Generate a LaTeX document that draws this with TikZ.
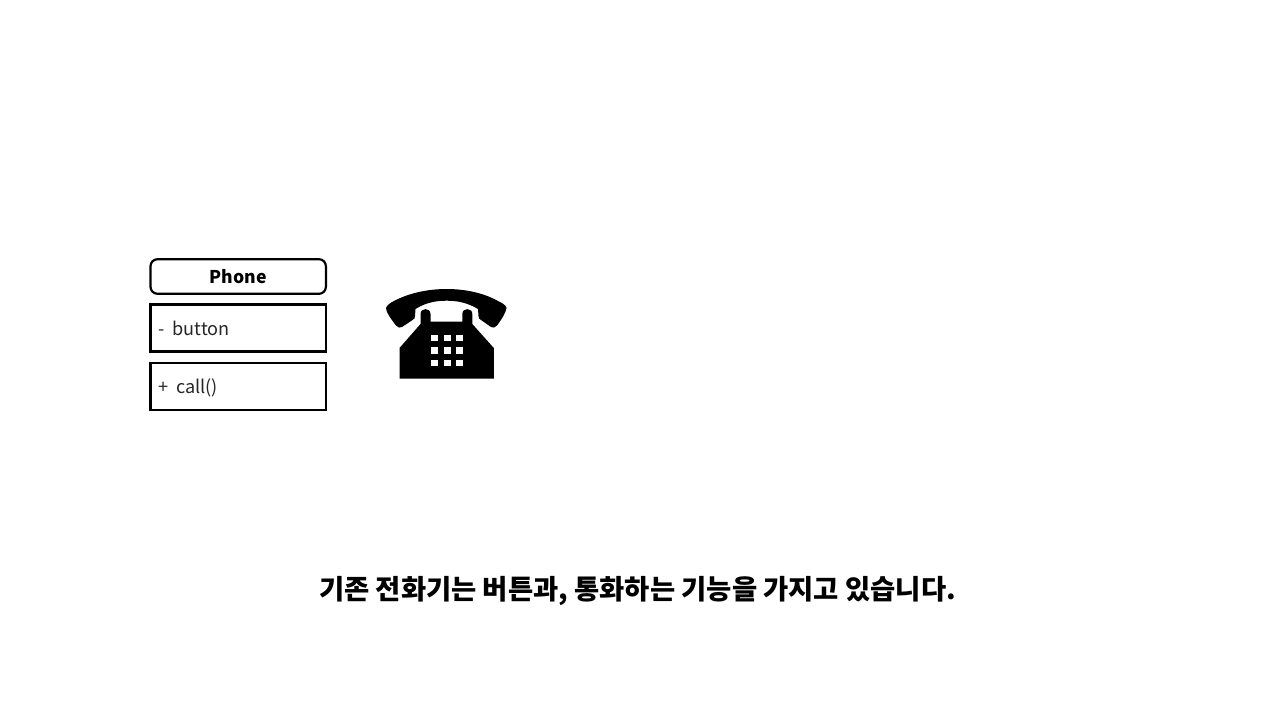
\documentclass[tikz,border=0pt]{standalone}
\usepackage{fontspec}
\setmainfont{Noto Sans CJK KR}
\tikzset{
  x=1pt,y=-1pt,
  umlbox/.style={draw=black,line width=2.2pt,outer sep=0pt,fill=white,minimum width=175.4pt,minimum height=47pt,inner sep=0pt,text width=159pt,align=left,anchor=north west,font=\fontsize{18.1}{22}\selectfont,text=black!85},
  titlebox/.style={umlbox,rounded corners=7pt,minimum height=34.6pt,align=center,text=black,font=\fontsize{17.6}{22}\selectfont\bfseries},
  caption/.style={font=\fontsize{27.4}{32}\selectfont\bfseries,text=black,inner sep=0pt},
  keypad/.style={fill=white,draw=none}
}
\begin{document}
\begin{tikzpicture}
\useasboundingbox (0,0) rectangle (1280,720);
\node[titlebox] (title) at (150.5,259.2) {Phone};
\node[umlbox] (attr) at (150.5,304.5) {\raisebox{-2.5pt}[14pt][4pt]{-\hspace{0.42em}button}};
\node[umlbox] (oper) at (150.5,362.6) {\raisebox{-2.5pt}[14pt][4pt]{+\hspace{0.42em}call()}};
% telephone
\fill[black] (386,308) .. controls (387,305) and (390,303) .. (394,301)
  .. controls (409,293) and (428,289) .. (446.7,289)
  .. controls (465,289) and (484,293) .. (498,301)
  .. controls (502,303) and (506,305) .. (506.5,308)
  .. controls (506,312) and (502,319) .. (497,325.5)
  .. controls (495,328) and (493,328) .. (491,327)
  -- (481,320) .. controls (479,319) and (478.5,318) .. (478.5,316)
  -- (478,309) .. controls (468,303) and (458,300.7) .. (446.7,300.7)
  .. controls (435,300.7) and (425,303) .. (415.5,309)
  -- (415,316) .. controls (415,318) and (414.5,319) .. (412.5,320)
  -- (402,327) .. controls (400,328) and (398,328) .. (396,325.5)
  .. controls (391,319) and (386,312) .. (386,308) -- cycle;
\fill[black] (399.5,378.5) -- (399.5,348) -- (420.5,324) -- (420.5,314)
  .. controls (420.5,307.5) and (430.5,307.5) .. (430.5,314)
  -- (430.5,321.7) -- (462.3,321.7) -- (462.3,314)
  .. controls (462.3,307.5) and (472.3,307.5) .. (472.3,314)
  -- (472.3,324) -- (493.8,348) -- (493.8,378.5) -- cycle;
\foreach \kx in {431,443.5,456}{
  \foreach \ky in {334.5,347,359.5}{
    \fill[keypad] (\kx,\ky) rectangle ++(7,6.5);
  }
}
\node[caption] (cap) at (637.5,591.2) {기존 전화기는 버튼과, 통화하는 기능을 가지고 있습니다.};
\end{tikzpicture}
\end{document}
